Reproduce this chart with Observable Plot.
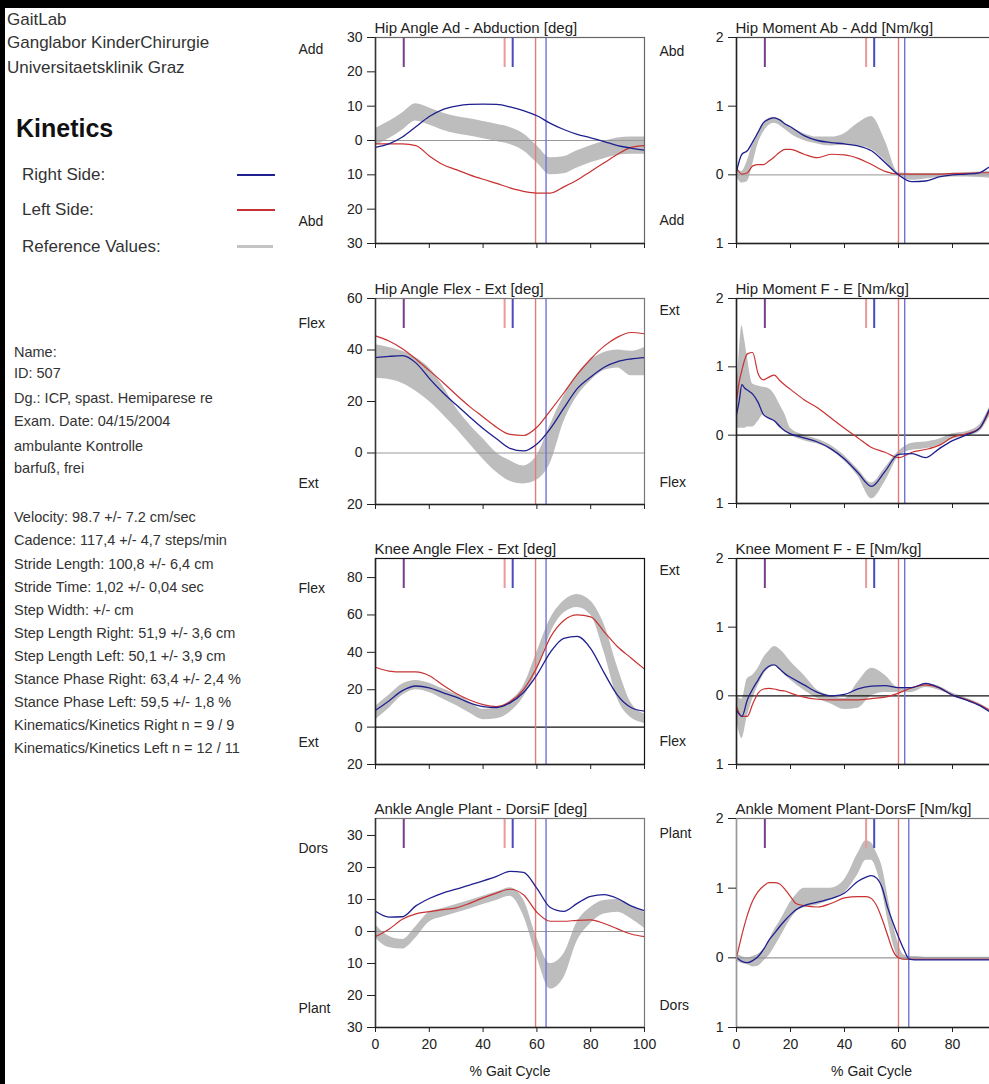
<!DOCTYPE html>
<html><head><meta charset="utf-8">
<script src="https://cdn.jsdelivr.net/npm/d3@7"></script>
<script src="https://cdn.jsdelivr.net/npm/@observablehq/plot@0.6"></script>
<style>
html,body{margin:0;padding:0;overflow:hidden;}
body{width:989px;height:1084px;position:relative;background:#fff;font-family:"Liberation Sans",Arial,sans-serif;color:#333;}
#topbar{position:absolute;left:0;top:0;width:989px;height:8px;background:#000;}
#leftbar{position:absolute;left:0;top:0;width:5px;height:1084px;background:#000;}
.t{position:absolute;white-space:nowrap;line-height:20px;}
.s{font-size:14.5px;}
.leg{position:absolute;height:0;}
</style></head><body>
<div id="topbar"></div><div id="leftbar"></div>
<div class="t" style="left:7px;top:10px;font-size:17px">GaitLab</div>
<div class="t" style="left:7px;top:33px;font-size:17px">Ganglabor KinderChirurgie</div>
<div class="t" style="left:7px;top:58px;font-size:17px">Universitaetsklinik Graz</div>
<div class="t" style="left:16px;top:113px;font-size:25px;font-weight:bold;line-height:30px;color:#111">Kinetics</div>
<div class="t" style="left:22px;top:165px;font-size:17px">Right Side:</div>
<div class="t" style="left:22px;top:200px;font-size:17px">Left Side:</div>
<div class="t" style="left:22px;top:237px;font-size:17px">Reference Values:</div>
<div class="leg" style="left:237px;top:174px;width:38px;border-top:2px solid #1f1f8f"></div>
<div class="leg" style="left:237px;top:209px;width:38px;border-top:2px solid #c83232"></div>
<div class="leg" style="left:237px;top:245px;width:36px;border-top:3px solid #c4c4c4"></div>
<div id="info"></div>
<script>
// ---------- patient info ----------
const infoLines = [
  ["Name:", 352], ["ID: 507", 373], ["Dg.: ICP, spast. Hemiparese re", 398],
  ["Exam. Date: 04/15/2004", 421], ["ambulante Kontrolle", 446], ["barfuß, frei", 468],
  ["Velocity: 98.7 +/- 7.2 cm/sec", 517], ["Cadence: 117,4 +/- 4,7 steps/min", 540],
  ["Stride Length: 100,8 +/- 6,4 cm", 564], ["Stride Time: 1,02 +/- 0,04 sec", 587],
  ["Step Width: +/- cm", 610], ["Step Length Right: 51,9 +/- 3,6 cm", 633],
  ["Step Length Left: 50,1 +/- 3,9 cm", 656], ["Stance Phase Right: 63,4 +/- 2,4 %", 679],
  ["Stance Phase Left: 59,5 +/- 1,8 %", 702], ["Kinematics/Kinetics Right n = 9 / 9", 725],
  ["Kinematics/Kinetics Left n = 12 / 11", 748]
];

// ---------- data ----------
const pct = [0,5,10,15,20,25,30,35,40,45,50,55,60,65,70,75,80,85,90,95,100];
const xTicks = [0,20,40,60,80,100];

// Hip Angle Ad - Abduction
const hipAbdRight = [-2,-1,1,4,7,9,10,10.5,10.6,10.5,9.8,8.7,7.2,5,3.2,1.8,0.8,-0.3,-1.5,-2.2,-2.8];
const hipAbdLeft  = [-1,-1,-1,-1.5,-4.5,-7,-8.5,-10,-11.3,-12.5,-13.8,-14.8,-15.3,-15.3,-13.5,-11.5,-9,-6.5,-4,-2,-1.5];
const hipAbdRefLo = [-1.5,0.5,3,5.7,4.5,3,2,1.3,0.5,-0.3,-1.2,-3,-6.5,-10,-9.7,-8,-6.5,-5.3,-4.3,-4,-4];
const hipAbdRefHi = [3.5,5.5,8,10.7,9.5,8,7,6.3,5.5,4.7,3.8,2,-1.5,-5,-4.7,-3,-1.5,-0.3,0.7,1,1];

// Hip Angle Flex - Ext
const hipFlexRight = [37,37.5,37.8,35,29,23.5,18.7,14,9.5,5.5,1.8,0.8,3.5,9.5,17.4,25,29.5,33.3,35.5,36.5,37];
const hipFlexLeft  = [45.5,43.5,40.5,36.5,32,27.5,22.6,18,14,10,7.2,6.8,10,16.5,23.3,30.5,36.5,41.5,45,46.8,46.3];
const hipFlexRefLo = [29,28.5,27,24,20,15,9.5,3.5,-2.4,-7.5,-11,-12,-10.5,-4,12,22,28,32,33,30,30];
const hipFlexRefHi = [42,41,39.5,37,33,26,17.5,11,5.5,0,-3,-5,-1,11,22,30.5,36,39,40,39.5,41];

// Knee Angle Flex - Ext
const kneeFlexRight = [9,14,19.5,22,21,18.5,16,13,11,10.5,13,18.5,28,40,47.5,48.5,42,29,17,10.5,8.5];
const kneeFlexLeft  = [32,30,29.5,29.5,27.5,22.5,18,14.5,12,11,13.5,20,32,48,57,60,59,51,43,37,31];
const kneeFlexRefLo = [4,10,17,20,18.5,15,11.5,7.5,4,4.5,8,16,30,50,61,64,60,40,15,5,2];
const kneeFlexRefHi = [11,17,23,25,23.5,20.5,17.5,13.5,9.5,10.5,14,22,40,58,67.5,71,67.5,55,32,13,7];

// Ankle Angle Plant - DorsiF
const ankleDorsRight = [6.3,4.5,4.6,8,10.3,12,13.2,14.5,15.8,17.2,18.8,18.5,13.5,7.5,6.3,8.8,11,11.5,10.3,8,6.5];
const ankleDorsLeft  = [-1.6,0.7,3.8,5.5,6.2,6.8,7.4,8.8,10.5,12,13.2,11.5,6,3.2,3.2,3.5,3.6,2.5,0.8,-0.8,-1.6];
const ankleDorsRefLo = [-2,-5,-5.5,-2,3,4.5,5.8,7,8.4,9.7,11,5,-8,-18,-14.5,-3,2.5,5.5,6,4,1];
const ankleDorsRefHi = [2,-1.5,-2.5,1.5,6,7.2,8.4,9.7,11,12.3,13.7,10,-2,-10,-7,3,7.5,9.7,10,8,6];

// Hip Moment Ab - Add
const momX1 = [0,2,4,6,8,10,12,14,16,18,20,25,30,35,40,45,50,55,60,65,70,75,80,85,90,95,100];
const hipAbMomRight = [0.05,0.3,0.35,0.48,0.62,0.76,0.81,0.83,0.8,0.74,0.7,0.57,0.5,0.47,0.45,0.42,0.35,0.18,0.0,-0.1,-0.09,-0.03,0.0,0.01,0.03,0.13,0.1];
const hipAbMomLeft  = [0.1,0.01,0.03,0.13,0.15,0.15,0.2,0.26,0.33,0.37,0.37,0.3,0.25,0.3,0.29,0.24,0.15,0.05,0.01,0.01,0.01,0.01,0.02,0.02,0.03,0.03,0.03];
const hipAbMomRefLo = [-0.02,-0.12,-0.1,0.15,0.45,0.62,0.72,0.75,0.72,0.66,0.6,0.5,0.45,0.42,0.43,0.42,0.37,0.2,-0.02,-0.08,-0.06,-0.04,-0.03,-0.03,-0.04,-0.05,-0.05];
const hipAbMomRefHi = [0.08,0.05,0.2,0.45,0.62,0.76,0.82,0.84,0.8,0.75,0.7,0.6,0.55,0.55,0.6,0.75,0.85,0.5,0.03,0.02,0.02,0.02,0.02,0.03,0.04,0.05,0.05];

// Hip Moment F - E
const momX2 = [0,1,2,3,4,6,8,10,12,14,16,18,20,25,30,35,40,45,50,55,60,65,70,75,80,85,90,95,100];
const hipFlexMomRight = [0.3,0.5,0.74,0.69,0.66,0.6,0.48,0.3,0.25,0.21,0.13,0.06,0.02,-0.04,-0.1,-0.2,-0.35,-0.55,-0.75,-0.53,-0.28,-0.27,-0.33,-0.2,-0.08,0,0.1,0.48,0.7];
const hipFlexMomLeft  = [0.5,0.78,0.95,1.1,1.19,1.21,0.9,0.81,0.85,0.88,0.8,0.73,0.67,0.52,0.4,0.25,0.1,-0.04,-0.18,-0.25,-0.33,-0.25,-0.21,-0.15,-0.03,0.02,0.1,0.45,0.7];
const hipFlexMomRefLo = [0.1,0.1,0.1,0.1,0.12,0.12,0.2,0.3,0.25,0.2,0.1,0.05,0.0,-0.08,-0.13,-0.22,-0.38,-0.6,-0.93,-0.68,-0.32,-0.22,-0.2,-0.15,-0.06,-0.02,0.05,0.35,0.6];
const hipFlexMomRefHi = [0.6,1.2,1.6,1.4,1.15,0.75,0.72,0.7,0.68,0.6,0.45,0.3,0.1,0.0,-0.06,-0.15,-0.3,-0.5,-0.7,-0.48,-0.24,-0.12,-0.1,-0.06,0.02,0.05,0.15,0.5,0.8];

// Knee Moment F - E
const kneeMomRight = [-0.21,-0.3,-0.06,0.1,0.23,0.36,0.43,0.45,0.39,0.32,0.27,0.16,0.05,0.0,0.02,0.1,0.14,0.15,0.12,0.12,0.18,0.12,0.01,-0.06,-0.14,-0.26,-0.35];
const kneeMomLeft  = [-0.16,-0.3,-0.3,-0.12,0.04,0.1,0.11,0.1,0.08,0.07,0.04,-0.02,-0.05,-0.06,-0.06,-0.06,-0.04,-0.02,0.04,0.12,0.16,0.12,0.01,-0.05,-0.13,-0.24,-0.33];
const kneeMomRefLo = [-0.35,-0.62,-0.3,-0.05,0.15,0.3,0.4,0.45,0.38,0.3,0.23,0.08,-0.04,-0.12,-0.2,-0.18,0.0,0.05,0.05,0.05,0.12,0.08,0.0,-0.07,-0.15,-0.27,-0.36];
const kneeMomRefHi = [0.0,-0.05,0.25,0.3,0.4,0.55,0.65,0.72,0.68,0.6,0.5,0.3,0.08,0.0,-0.04,0.2,0.4,0.3,0.12,0.12,0.18,0.14,0.04,-0.03,-0.11,-0.22,-0.3];

// Ankle Moment Plant - DorsF
const momX3 = [0,2,4,6,8,10,12,14,16,18,20,22,25,30,35,40,45,48,50,52,54,56,58,60,62,64,66,70,75,80,85,90,95,100];
const ankleMomRight = [0,-0.05,-0.07,-0.04,0.02,0.12,0.25,0.35,0.45,0.54,0.62,0.69,0.75,0.8,0.85,0.93,1.1,1.16,1.18,1.14,1.0,0.72,0.5,0.3,0.12,-0.02,-0.03,-0.03,-0.03,-0.03,-0.03,-0.03,-0.03,-0.03];
const ankleMomLeft  = [0,0.33,0.61,0.82,0.95,1.03,1.08,1.08,1.06,0.98,0.88,0.78,0.75,0.73,0.78,0.86,0.88,0.88,0.85,0.74,0.55,0.32,0.1,0.0,-0.02,-0.02,-0.02,-0.02,-0.02,-0.02,-0.02,-0.02,-0.02,-0.02];
const ankleMomRefLo = [-0.05,-0.08,-0.1,-0.13,-0.12,-0.05,0.03,0.15,0.28,0.42,0.55,0.65,0.72,0.76,0.83,0.93,1.2,1.4,1.4,1.25,0.95,0.55,0.2,0.0,-0.04,-0.04,-0.04,-0.03,-0.03,-0.03,-0.03,-0.03,-0.03,-0.03];
const ankleMomRefHi = [0.05,0.02,0.0,0.02,0.05,0.12,0.25,0.4,0.52,0.66,0.8,0.9,1.0,1.0,1.0,1.12,1.5,1.68,1.65,1.5,1.3,0.9,0.5,0.2,0.04,0.02,0.02,0.01,0.01,0.01,0.01,0.01,0.01,0.01];

// gait events (% gait cycle)
const stanceLeft  = [59.5,59.5,59.5,59.5,60,60,60,60];
const stanceRight = [63.4,63.4,63.4,63.4,62.3,62.3,62.3,63.8];
const oppToeOff = 10.5;
const oppContactLeft = 48;
const oppContactRight = 51;

// ---------- info text ----------
const info = document.getElementById("info");
for (const [t, yc] of infoLines) {
  const d = document.createElement("div");
  d.className = "t s"; d.style.left = "14px"; d.style.top = (yc - 10) + "px";
  d.textContent = t; info.appendChild(d);
}

// ---------- panels ----------
const panels = [
  {col:0, top:37, bottom:243, x:pct, right:hipAbdRight, left:hipAbdLeft, lo:hipAbdRefLo, hi:hipAbdRefHi,
   yDomain:[-30,30], yTicks:[-30,-20,-10,0,10,20,30], title:"Hip Angle Ad - Abduction [deg]",
   labels:[["Add",26.4],["Abd",-23.5]], zero:"#999", frame:"#666", axis:"#333"},
  {col:0, top:298, bottom:504, x:pct, right:hipFlexRight, left:hipFlexLeft, lo:hipFlexRefLo, hi:hipFlexRefHi,
   yDomain:[-20,60], yTicks:[-20,0,20,40,60], title:"Hip Angle Flex - Ext [deg]",
   labels:[["Flex",50.4],["Ext",-12]], zero:"#999", frame:"#777", axis:"#333"},
  {col:0, top:558, bottom:764, x:pct, right:kneeFlexRight, left:kneeFlexLeft, lo:kneeFlexRefLo, hi:kneeFlexRefHi,
   yDomain:[-20,90.2], yTicks:[-20,0,20,40,60,80], title:"Knee Angle Flex - Ext [deg]",
   labels:[["Flex",74],["Ext",-8]], zero:"#111", frame:"#111", axis:"#222"},
  {col:0, top:818, bottom:1027, x:pct, right:ankleDorsRight, left:ankleDorsLeft, lo:ankleDorsRefLo, hi:ankleDorsRefHi,
   yDomain:[-30,35.3], yTicks:[-30,-20,-10,0,10,20,30], title:"Ankle Angle Plant - DorsiF [deg]",
   labels:[["Dors",26],["Plant",-24]], zero:"#999", frame:"#777", axis:"#333", last:true},
  {col:1, top:37, bottom:243, x:momX1, right:hipAbMomRight, left:hipAbMomLeft, lo:hipAbMomRefLo, hi:hipAbMomRefHi,
   yDomain:[-1,2], yTicks:[-1,0,1,2], title:"Hip Moment Ab - Add [Nm/kg]",
   labels:[["Abd",1.8],["Add",-0.67]], zero:"#aaa", frame:"#444", axis:"#222"},
  {col:1, top:298, bottom:503, x:momX2, right:hipFlexMomRight, left:hipFlexMomLeft, lo:hipFlexMomRefLo, hi:hipFlexMomRefHi,
   yDomain:[-1,2], yTicks:[-1,0,1,2], title:"Hip Moment F - E [Nm/kg]",
   labels:[["Ext",1.83],["Flex",-0.69]], zero:"#111", frame:"#222", axis:"#222"},
  {col:1, top:558, bottom:764, x:momX1, right:kneeMomRight, left:kneeMomLeft, lo:kneeMomRefLo, hi:kneeMomRefHi,
   yDomain:[-1,2], yTicks:[-1,0,1,2], title:"Knee Moment F - E [Nm/kg]",
   labels:[["Ext",1.83],["Flex",-0.67]], zero:"#111", frame:"#111", axis:"#222"},
  {col:1, top:818, bottom:1027, x:momX3, right:ankleMomRight, left:ankleMomLeft, lo:ankleMomRefLo, hi:ankleMomRefHi,
   yDomain:[-1,2], yTicks:[-1,0,1,2], title:"Ankle Moment Plant-DorsF [Nm/kg]",
   labels:[["Plant",1.79],["Dors",-0.69]], zero:"#999", frame:"#777", axis:"#999", last:true}
];

const cols = [{pageX:285, ml:90, pw:269}, {pageX:645, ml:91, pw:270}];

panels.forEach((p, i) => {
  const c = cols[p.col];
  const mt = 30, mr = 8, mb = p.last ? 57 : 12;
  const ph = p.bottom - p.top;
  const ref = p.x.map((x, k) => ({x, lo: p.lo[k], hi: p.hi[k]}));
  const R = p.x.map((x, k) => ({x, y: p.right[k]}));
  const L = p.x.map((x, k) => ({x, y: p.left[k]}));
  const y0 = p.yDomain[0];
  // the right column is cut by the page edge: its "100" label falls outside the picture
  const xFmt = p.last ? (d => (p.col === 1 && d === 100) ? "" : String(d)) : (() => "");
  const marks = [
    Plot.areaY(ref, {x:"x", y1:"lo", y2:"hi", fill:"#bdbdbd", curve:"monotone-x"}),
    Plot.ruleY([0], {stroke:p.zero, strokeWidth:1.2}),
    Plot.ruleX([stanceLeft[i]], {stroke:"#e27c7c", strokeWidth:1.4}),
    Plot.ruleX([stanceRight[i]], {stroke:"#7272d6", strokeWidth:1.4}),
    Plot.ruleX([oppToeOff], {stroke:"#7a3c8c", strokeWidth:2, insetBottom: ph - 30}),
    Plot.ruleX([oppContactLeft], {stroke:"#eb9a9a", strokeWidth:2, insetBottom: ph - 30}),
    Plot.ruleX([oppContactRight], {stroke:"#4b4bbf", strokeWidth:2, insetBottom: ph - 30}),
    Plot.line(L, {x:"x", y:"y", stroke:"#c83232", strokeWidth:1.2, curve:"monotone-x"}),
    Plot.line(R, {x:"x", y:"y", stroke:"#1f1f8f", strokeWidth:1.3, curve:"monotone-x"}),
    Plot.frame({stroke:p.frame, strokeWidth:1.2}),
    Plot.ruleX([0], {stroke:p.axis, strokeWidth:1.5}),
    Plot.ruleY([y0], {stroke:"#222", strokeWidth:1.5}),
    Plot.axisY({ticks:p.yTicks, tickSize:8, tickPadding:5, tickFormat:d => String(Math.abs(d)), fontSize:14, label:null, stroke:"#222"}),
    Plot.axisX({ticks:xTicks, tickSize:5, tickPadding:7, tickFormat: xFmt, fontSize:14, label:null, stroke:"#222"}),
    Plot.text([p.title], {text:d => d, frameAnchor:"top-left", dy:-15, dx:-1, textAnchor:"start", fontSize:15, fill:"#222"}),
    Plot.text(p.labels, {y:d => d[1], text:d => d[0], frameAnchor:"left", dx:-77, textAnchor:"start", fontSize:14, fill:"#222"})
  ];
  if (p.last) marks.push(Plot.text(["% Gait Cycle"], {x:50, text:d => d, frameAnchor:"bottom", dy:48, fontSize:14, fill:"#222"}));
  const svg = Plot.plot({
    width: c.ml + c.pw + mr,
    height: mt + ph + mb,
    marginLeft: c.ml, marginRight: mr, marginTop: mt, marginBottom: mb,
    x: {domain:[0,100]},
    y: {domain:p.yDomain},
    style: {background:"transparent", overflow:"visible", maxWidth:"none", fontFamily:"Liberation Sans, Arial, sans-serif", color:"#222"},
    marks
  });
  svg.style.position = "absolute";
  svg.style.left = c.pageX + "px";
  svg.style.top = (p.top - mt) + "px";
  document.body.appendChild(svg);
});
</script>
</body></html>
